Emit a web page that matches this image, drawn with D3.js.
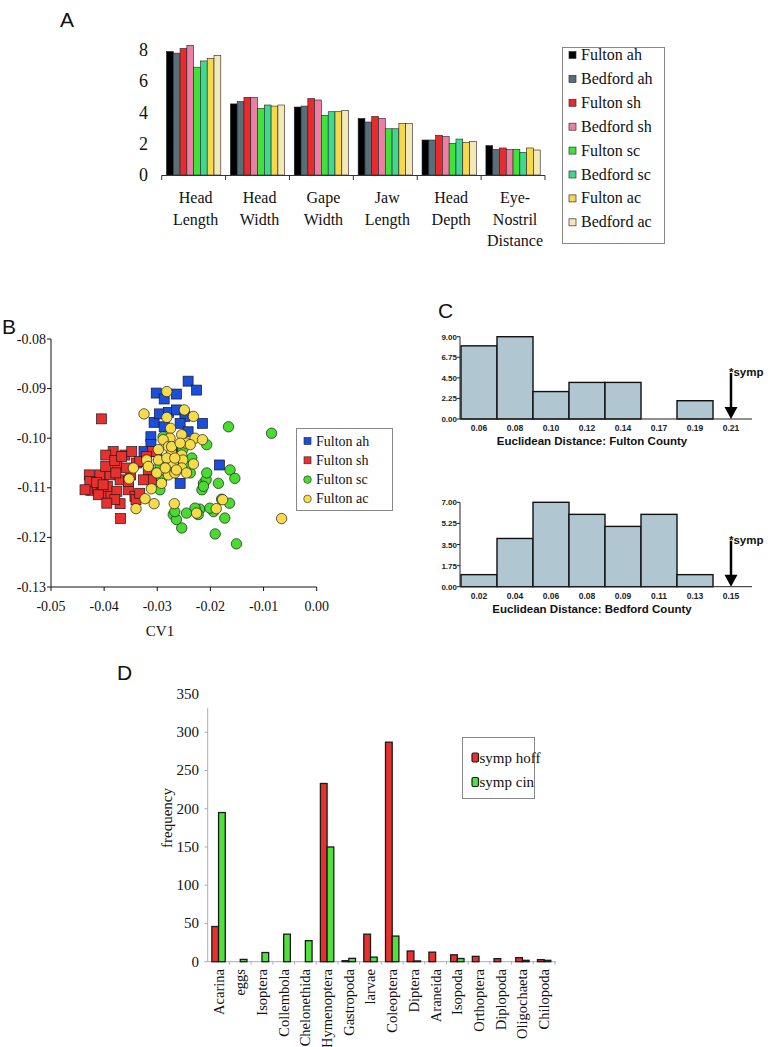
<!DOCTYPE html>
<html><head><meta charset="utf-8">
<script src="https://cdn.jsdelivr.net/npm/d3@7"></script>
<style>
html,body{margin:0;padding:0;background:#fff;}
svg{display:block;}
</style></head>
<body><svg id="fig" width="776" height="1047"></svg>
<script>
// ---------- Panel A data ----------
const aCategories = ["Head\nLength","Head\nWidth","Gape\nWidth","Jaw\nLength","Head\nDepth","Eye-\nNostril\nDistance"];
const aSeries = ["Fulton ah","Bedford ah","Fulton sh","Bedford sh","Fulton sc","Bedford sc","Fulton ac","Bedford ac"];
const aColors = ["#000000","#56707a","#ea2a2c","#ec7fa4","#3fe23a","#3fd88e","#f6d84c","#f4e8b8"];
const aHeadLength = [7.9,7.8,8.1,8.3,6.9,7.3,7.45,7.65];
const aHeadWidth  = [4.55,4.7,4.97,4.97,4.26,4.48,4.41,4.48];
const aGapeWidth  = [4.35,4.41,4.9,4.8,3.82,4.05,4.05,4.14];
const aJawLength  = [3.62,3.39,3.75,3.62,2.96,2.96,3.3,3.3];
const aHeadDepth  = [2.24,2.24,2.54,2.47,2.03,2.3,2.09,2.15];
const aEyeNostril = [1.88,1.64,1.73,1.64,1.64,1.45,1.73,1.6];
const aYTicks = [0,2,4,6,8];

// ---------- Panel B data (CV1, CV2) ----------
const bSeries = ["Fulton ah","Fulton sh","Fulton sc","Fulton ac"];
const bColors = ["#1b4fd9","#e8302e","#48dc30","#f6dc4a"];
const bFultonAh = [[-0.0242,-0.0885],[-0.0226,-0.0903],[-0.0302,-0.0909],[-0.0287,-0.0921],[-0.0264,-0.0911],[-0.0306,-0.0968],[-0.0296,-0.0951],[-0.0279,-0.0948],[-0.0264,-0.0943],[-0.0248,-0.0956],[-0.0215,-0.0970],[-0.0257,-0.0970],[-0.0287,-0.0977],[-0.0312,-0.0997],[-0.0312,-0.1013],[-0.0301,-0.1027],[-0.0254,-0.1017],[-0.0242,-0.0987],[-0.0257,-0.1042],[-0.0280,-0.1047],[-0.0257,-0.1091],[-0.0183,-0.1054],[-0.0325,-0.1027],[-0.0273,-0.1020]];
const bFultonSh = [[-0.0405,-0.0961],[-0.0425,-0.1105],[-0.0428,-0.1074],[-0.0408,-0.1074],[-0.0389,-0.1074],[-0.0413,-0.1101],[-0.0383,-0.1027],[-0.0397,-0.1034],[-0.0376,-0.1054],[-0.0361,-0.1034],[-0.0348,-0.1027],[-0.0339,-0.1050],[-0.0350,-0.1074],[-0.0370,-0.1084],[-0.0378,-0.1070],[-0.0354,-0.1104],[-0.0342,-0.1117],[-0.0370,-0.1132],[-0.0388,-0.1112],[-0.0406,-0.1112],[-0.0369,-0.1162],[-0.0340,-0.1124],[-0.0394,-0.1097],[-0.0376,-0.1107],[-0.0358,-0.1060],[-0.0333,-0.1047],[-0.0309,-0.1027],[-0.0317,-0.1064],[-0.0311,-0.1084],[-0.0326,-0.1084],[-0.0427,-0.1087],[-0.0414,-0.1089],[-0.0380,-0.1124],[-0.0354,-0.1087],[-0.0397,-0.1057],[-0.0380,-0.1045],[-0.0367,-0.1037],[-0.0436,-0.1104],[-0.0411,-0.1114],[-0.0402,-0.1094],[-0.0395,-0.1131],[-0.0333,-0.1111],[-0.0320,-0.1037]];
const bFultonSc = [[-0.0166,-0.0977],[-0.0085,-0.0990],[-0.0207,-0.1013],[-0.0163,-0.1064],[-0.0154,-0.1081],[-0.0213,-0.1091],[-0.0208,-0.1084],[-0.0185,-0.1091],[-0.0216,-0.1104],[-0.0179,-0.1123],[-0.0164,-0.1131],[-0.0194,-0.1148],[-0.0191,-0.1193],[-0.0151,-0.1213],[-0.0220,-0.1143],[-0.0229,-0.1141],[-0.0245,-0.1151],[-0.0254,-0.1181],[-0.0270,-0.1154],[-0.0264,-0.1164],[-0.0267,-0.1148],[-0.0223,-0.1154],[-0.0173,-0.1161],[-0.0201,-0.1141],[-0.0289,-0.0997],[-0.0235,-0.1040],[-0.0238,-0.1070],[-0.0295,-0.1104],[-0.0301,-0.1070],[-0.0292,-0.1084],[-0.0245,-0.1057],[-0.0295,-0.1054],[-0.0252,-0.1023],[-0.0207,-0.1070],[-0.0213,-0.1097]];
const bFultonAc = [[-0.0282,-0.0906],[-0.0325,-0.0951],[-0.0249,-0.0943],[-0.0232,-0.0956],[-0.0282,-0.0958],[-0.0275,-0.0980],[-0.0276,-0.1000],[-0.0289,-0.1003],[-0.0254,-0.0993],[-0.0245,-0.1010],[-0.0229,-0.1000],[-0.0215,-0.1003],[-0.0238,-0.1013],[-0.0279,-0.1017],[-0.0273,-0.1030],[-0.0298,-0.1023],[-0.0254,-0.1034],[-0.0298,-0.1044],[-0.0252,-0.1044],[-0.0232,-0.1052],[-0.0270,-0.1050],[-0.0282,-0.1040],[-0.0301,-0.1070],[-0.0279,-0.1074],[-0.0267,-0.1070],[-0.0254,-0.1060],[-0.0245,-0.1070],[-0.0320,-0.1044],[-0.0317,-0.1057],[-0.0345,-0.1060],[-0.0353,-0.1082],[-0.0292,-0.1091],[-0.0311,-0.1102],[-0.0323,-0.1122],[-0.0306,-0.1132],[-0.0340,-0.1142],[-0.0268,-0.1132],[-0.0226,-0.1151],[-0.0189,-0.1142],[-0.0177,-0.1124],[-0.0066,-0.1162],[-0.0264,-0.1064],[-0.0285,-0.1060],[-0.0273,-0.1017],[-0.0257,-0.1010],[-0.0267,-0.1040]];
const bXTicks = [-0.05,-0.04,-0.03,-0.02,-0.01,0.00];
const bYTicks = [-0.08,-0.09,-0.10,-0.11,-0.12,-0.13];

// ---------- Panel C data ----------
const cFultonBins = ["0.06","0.08","0.10","0.12","0.14","0.17","0.19","0.21"];
const cFultonCounts = [8,9,3,4,4,0,2,0];
const cFultonYTicks = [0,2.25,4.5,6.75,9];
const cBedfordBins = ["0.02","0.04","0.06","0.08","0.09","0.11","0.13","0.15"];
const cBedfordCounts = [1,4,7,6,5,6,1,0];
const cBedfordYTicks = [0,1.75,3.5,5.25,7];

// ---------- Panel D data ----------
const dCategories = ["Acarina","eggs","Isoptera","Collembola","Chelonethida","Hymenoptera","Gastropoda","larvae","Coleoptera","Diptera","Araneida","Isopoda","Orthoptera","Diplopoda","Oligochaeta","Chilopoda"];
const dSeries = ["symp hoff","symp cin"];
const dColors = ["#e8302e","#52e03c"];
const dSympHoff = [46,0,0,0,0,233,1.3,36,287,14,12.5,9,7,4,5.3,2.7];
const dSympCin  = [195,3,12,36,27.5,150,4.4,6,33.5,1,0,4.2,0,0,1.8,1.8];
const dYTicks = [0,50,100,150,200,250,300,350];

const SERIF = "'Liberation Serif','DejaVu Serif',serif";
const SANS = "'Liberation Sans',Arial,sans-serif";
const svg = d3.select("#fig");
const fmt2 = v => d3.format(".2f")(v).replace("\u2212","-");

// panel letters
[["A",60,27],["B",2,334],["C",438,318],["D",117,680]].forEach(([t,x,y])=>{
  svg.append("text").attr("x",x).attr("y",y).attr("font-family","'Liberation Sans Narrow','Liberation Sans',Arial,sans-serif")
    .attr("font-size",21).attr("fill","#111").text(t);
});

// ================= Panel A =================
{
  const gA = svg.append("g").attr("font-family",SERIF);
  const x0 = d3.scaleBand().domain(aCategories).range([161.7,545]).paddingInner(0.15).paddingOuter(0.075);
  const x1 = d3.scaleBand().domain(aSeries).range([0,x0.bandwidth()]);
  const y = d3.scaleLinear().domain([0,8]).range([175,50]);
  const rows = [aHeadLength,aHeadWidth,aGapeWidth,aJawLength,aHeadDepth,aEyeNostril];
  aCategories.forEach((c,i)=>{
    gA.selectAll(null).data(rows[i]).join("rect")
      .attr("x",(d,j)=>x0(c)+x1(aSeries[j]))
      .attr("y",d=>y(d)).attr("width",x1.bandwidth()).attr("height",d=>y(0)-y(d))
      .attr("fill",(d,j)=>aColors[j]).attr("stroke","#222").attr("stroke-width",0.6);
  });
  gA.append("line").attr("x1",161.7).attr("x2",545).attr("y1",175.5).attr("y2",175.5).attr("stroke","#333").attr("stroke-width",1);
  d3.range(7).forEach(k=>{
    const xx = 161.7 + (545-161.7)*k/6;
    gA.append("line").attr("x1",xx).attr("x2",xx).attr("y1",175.5).attr("y2",180).attr("stroke","#333");
  });
  gA.selectAll(null).data(aYTicks).join("text")
    .attr("x",148).attr("y",d=>y(d)+6).attr("text-anchor","end").attr("font-size",18).attr("fill","#111").text(d=>d);
  aCategories.forEach(c=>{
    const lines = c.split("\n");
    const t = gA.append("text").attr("text-anchor","middle").attr("font-size",16).attr("fill","#111");
    lines.forEach((l,k)=>{
      t.append("tspan").attr("x",x0(c)+x0.bandwidth()/2+2).attr("y",203+k*21.5).text(l);
    });
  });
  gA.append("rect").attr("x",562.5).attr("y",47.5).attr("width",102).attr("height",196).attr("fill","#fff").attr("stroke","#888");
  aSeries.forEach((s,j)=>{
    const cy = 55 + j*23.9;
    gA.append("rect").attr("x",569).attr("y",cy-3.5).attr("width",7).attr("height",7).attr("fill",aColors[j]).attr("stroke","#333").attr("stroke-width",0.7);
    gA.append("text").attr("x",581).attr("y",cy+5).attr("font-size",16).attr("fill","#111").text(s);
  });
}

// ================= Panel B =================
{
  const gB = svg.append("g").attr("font-family",SERIF);
  const x = d3.scaleLinear().domain([-0.05,0]).range([51,316.7]);
  const y = d3.scaleLinear().domain([-0.13,-0.08]).range([587,339]);
  gB.append("line").attr("x1",51).attr("x2",51).attr("y1",339).attr("y2",587).attr("stroke","#111").attr("stroke-width",1);
  gB.append("line").attr("x1",51).attr("x2",316.7).attr("y1",587).attr("y2",587).attr("stroke","#111").attr("stroke-width",1);
  bYTicks.forEach(t=>{
    gB.append("line").attr("x1",47).attr("x2",51).attr("y1",y(t)).attr("y2",y(t)).attr("stroke","#111");
    gB.append("text").attr("x",46).attr("y",y(t)+4.5).attr("text-anchor","end").attr("font-size",14).attr("fill","#111").text(fmt2(t));
  });
  bXTicks.forEach(t=>{
    gB.append("line").attr("x1",x(t)).attr("x2",x(t)).attr("y1",587).attr("y2",591).attr("stroke","#111");
    gB.append("text").attr("x",x(t)).attr("y",611).attr("text-anchor","middle").attr("font-size",14).attr("fill","#111").text(fmt2(t));
  });
  gB.append("text").attr("x",160).attr("y",636).attr("text-anchor","middle").attr("font-size",15).attr("fill","#111").text("CV1");
  const sq = 10;
  const drawSq = (data,col)=>gB.selectAll(null).data(data).join("rect")
    .attr("x",d=>x(d[0])-sq/2).attr("y",d=>y(d[1])-sq/2).attr("width",sq).attr("height",sq)
    .attr("fill",col).attr("stroke","#1a1a1a").attr("stroke-width",0.7);
  const drawCi = (data,col)=>gB.selectAll(null).data(data).join("circle")
    .attr("cx",d=>x(d[0])).attr("cy",d=>y(d[1])).attr("r",5.2)
    .attr("fill",col).attr("stroke","#1a1a1a").attr("stroke-width",0.7);
  drawSq(bFultonAh,bColors[0]);
  drawSq(bFultonSh,bColors[1]);
  drawCi(bFultonSc,bColors[2]);
  drawCi(bFultonAc,bColors[3]);
  gB.append("rect").attr("x",296.5).attr("y",428.5).attr("width",96).attr("height",82).attr("fill","#fff").attr("stroke","#888");
  bSeries.forEach((s,j)=>{
    const cy = 441 + j*19.3;
    if(j<2) gB.append("rect").attr("x",304).attr("y",cy-3.5).attr("width",7).attr("height",7).attr("fill",bColors[j]).attr("stroke","#222").attr("stroke-width",0.6);
    else gB.append("circle").attr("cx",307.5).attr("cy",cy).attr("r",3.8).attr("fill",bColors[j]).attr("stroke","#222").attr("stroke-width",0.6);
    gB.append("text").attr("x",316).attr("y",cy+4.5).attr("font-size",14).attr("fill","#111").text(s);
  });
}

// ================= Panel C =================
function histogram(bins,counts,yTicks,yMax,y0px,ytopPx,title){
  const g = svg.append("g").attr("font-family",SANS);
  const x = d3.scaleBand().domain(bins).range([461,749]);
  const y = d3.scaleLinear().domain([0,yMax]).range([y0px,ytopPx]);
  g.selectAll(null).data(counts).join("rect")
    .attr("x",(d,i)=>x(bins[i])).attr("y",d=>y(d)).attr("width",x.bandwidth()).attr("height",d=>y0px-y(d))
    .attr("fill",d=>d>0?"#b0c6d0":"none").attr("stroke",d=>d>0?"#111":"none").attr("stroke-width",1.4);
  g.append("line").attr("x1",460).attr("x2",460).attr("y1",y0px).attr("y2",ytopPx).attr("stroke","#222").attr("stroke-width",1);
  g.append("line").attr("x1",460).attr("x2",752).attr("y1",y0px).attr("y2",y0px).attr("stroke","#222").attr("stroke-width",1);
  yTicks.forEach(t=>{
    g.append("line").attr("x1",457).attr("x2",460).attr("y1",y(t)).attr("y2",y(t)).attr("stroke","#222");
    g.append("text").attr("x",457).attr("y",y(t)+3).attr("text-anchor","end").attr("font-size",8).attr("font-weight","bold").attr("fill","#222").text(fmt2(t));
  });
  bins.forEach(b=>{
    g.append("text").attr("x",x(b)+x.bandwidth()/2).attr("y",y0px+12).attr("text-anchor","middle").attr("font-size",8.5).attr("font-weight","bold").attr("fill","#222").text(b);
  });
  g.append("text").attr("x",592).attr("y",y0px+26).attr("text-anchor","middle").attr("font-size",11.5).attr("font-weight","bold").attr("fill","#111").text(title);
  const ax = x(bins[bins.length-1])+x.bandwidth()/2;
  g.append("line").attr("x1",ax).attr("x2",ax).attr("y1",y0px-46).attr("y2",y0px-10).attr("stroke","#000").attr("stroke-width",2.5);
  g.append("path").attr("d",`M${ax-6.5},${y0px-12}L${ax+6.5},${y0px-12}L${ax},${y0px}Z`).attr("fill","#000");
  g.append("text").attr("x",ax-2).attr("y",y0px-43).attr("font-size",11.5).attr("font-weight","bold").attr("fill","#111").text("*symp");
}
histogram(cFultonBins,cFultonCounts,cFultonYTicks,9,419,336.7,"Euclidean Distance: Fulton County");
histogram(cBedfordBins,cBedfordCounts,cBedfordYTicks,7,586.7,502.3,"Euclidean Distance: Bedford County");

// ================= Panel D =================
{
  const gD = svg.append("g").attr("font-family",SERIF);
  const x0 = d3.scaleBand().domain(dCategories).range([207.7,555]);
  const bw = 6.7;
  const x1 = d3.scaleBand().domain(dSeries).range([-bw,bw]);
  const y = d3.scaleLinear().domain([0,350]).range([961.7,694]);
  const axisCol = "#9fb0c2";
  gD.append("line").attr("x1",207.7).attr("x2",207.7).attr("y1",961.7).attr("y2",708).attr("stroke",axisCol).attr("stroke-width",1);
  gD.append("line").attr("x1",207.7).attr("x2",556).attr("y1",961.7).attr("y2",961.7).attr("stroke",axisCol).attr("stroke-width",1);
  dCategories.forEach((c,i)=>{
    const xx = x0(c)+x0.bandwidth();
    gD.append("line").attr("x1",xx).attr("x2",xx).attr("y1",961.7).attr("y2",964.5).attr("stroke",axisCol);
  });
  dYTicks.forEach(t=>{
    if(t<=300) gD.append("line").attr("x1",204.5).attr("x2",207.7).attr("y1",y(t)).attr("y2",y(t)).attr("stroke",axisCol);
    gD.append("text").attr("x",199).attr("y",y(t)+5).attr("text-anchor","end").attr("font-size",15).attr("fill","#111").text(t);
  });
  [dSympHoff,dSympCin].forEach((vals,s)=>{
    gD.selectAll(null).data(vals).join("rect")
      .attr("x",(d,i)=>x0(dCategories[i])+x0.bandwidth()/2+x1(dSeries[s]))
      .attr("y",d=>y(d)).attr("width",x1.bandwidth()).attr("height",d=>y(0)-y(d))
      .attr("fill",dColors[s]).attr("stroke","#1a1a1a").attr("stroke-width",d=>d>0?1.3:0);
  });
  dCategories.forEach(c=>{
    const cx = x0(c)+x0.bandwidth()/2;
    gD.append("text").attr("transform",`translate(${cx+5},969) rotate(-90)`).attr("text-anchor","end")
      .attr("font-size",14.5).attr("fill","#111").text(c);
  });
  gD.append("text").attr("transform","translate(172,818) rotate(-90)").attr("text-anchor","middle").attr("font-size",15).attr("fill","#111").text("frequency");
  gD.append("rect").attr("x",462.5).attr("y",737.5).attr("width",72).attr("height",61).attr("fill","#fff").attr("stroke","#888");
  dSeries.forEach((s,j)=>{
    const cy = 758 + j*24.5;
    gD.append("rect").attr("x",472).attr("y",cy-5).attr("width",6.5).attr("height",9).attr("rx",1.5).attr("fill",dColors[j]).attr("stroke","#1a1a1a").attr("stroke-width",1.2);
    gD.append("text").attr("x",479.5).attr("y",cy+4.5).attr("font-size",15).attr("fill","#111").text(s);
  });
}
</script></body></html>
